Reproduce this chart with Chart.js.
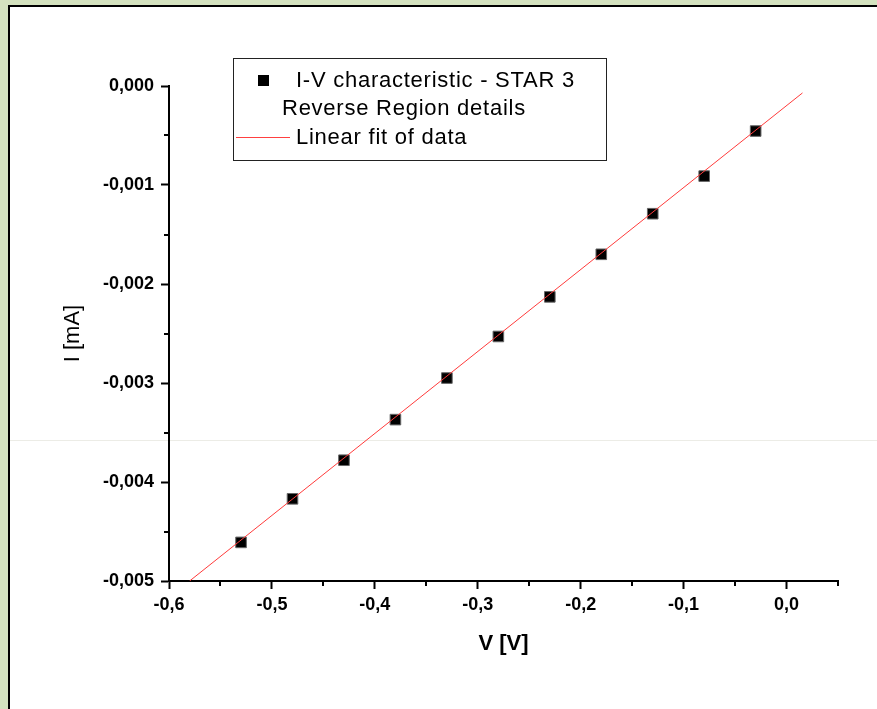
<!DOCTYPE html>
<html>
  <head>
    <title>I-V characteristic - STAR 3</title>
    <script src="https://cdn.jsdelivr.net/npm/chart.js@4.4.1/dist/chart.umd.min.js"></script>
    <style>
      body { margin: 0; background: #d4e2bf; width: 877px; height: 709px; overflow: hidden; position: relative; }
      #panel { position: absolute; left: 8px; top: 5px; right: 0; bottom: 0; background: #fff; border-left: 2px solid #000; border-top: 2px solid #000; }
      #seam { position: absolute; left: 10px; right: 0; top: 440px; height: 1px; background: #ecece6; }
      #myChart { position: absolute; left: 0; top: 0; }
    </style>
  </head>
  <body>
    <div id="panel"></div>
    <div id="seam"></div>
    <canvas id="myChart" width="877" height="709"></canvas>
    <script>
      // measured points, V in volts, I in mA
      const voltage = [-0.53, -0.48, -0.43, -0.38, -0.33, -0.28, -0.23, -0.18, -0.13, -0.08, -0.03];
      const current = [-0.00461, -0.00417, -0.00378, -0.00337, -0.00295, -0.00253, -0.00213, -0.00170, -0.00129, -0.00091, -0.000455];

      // ends of the fitted line
      const fitV = [-0.58, 0.0155];
      const fitI = [-0.005, -0.00007];

      const xMajor = [-0.6, -0.5, -0.4, -0.3, -0.2, -0.1, 0.0];
      const xMinor = [-0.55, -0.45, -0.35, -0.25, -0.15, -0.05, 0.05];
      const yMajor = [0, -0.001, -0.002, -0.003, -0.004, -0.005];
      const yMinor = [-0.0005, -0.0015, -0.0025, -0.0035, -0.0045];

      const FONT = "'Liberation Sans', Arial, sans-serif";

      const minorTicks = {
        id: "minorTicks",
        afterDraw(chart) {
          const ctx = chart.ctx;
          const x = chart.scales.x;
          const y = chart.scales.y;
          ctx.save();
          ctx.strokeStyle = "#000";
          ctx.lineWidth = 2;
          ctx.beginPath();
          xMinor.forEach((v) => {
            const px = Math.round(x.getPixelForValue(v));
            ctx.moveTo(px, x.top);
            ctx.lineTo(px, x.top + 5);
          });
          yMinor.forEach((v) => {
            const py = Math.round(y.getPixelForValue(v));
            ctx.moveTo(y.right, py);
            ctx.lineTo(y.right - 5, py);
          });
          ctx.stroke();
          ctx.restore();
        },
      };

      const boxLegend = {
        id: "boxLegend",
        afterDraw(chart) {
          const ctx = chart.ctx;
          ctx.save();
          ctx.fillStyle = "#fff";
          ctx.fillRect(233, 58, 373, 102);
          ctx.strokeStyle = "#222";
          ctx.lineWidth = 1;
          ctx.strokeRect(233.5, 58.5, 373, 102);
          ctx.fillStyle = "#000";
          ctx.fillRect(258, 75, 11, 11);
          ctx.strokeStyle = "#ff4040";
          ctx.beginPath();
          ctx.moveTo(236, 137.5);
          ctx.lineTo(290, 137.5);
          ctx.stroke();
          ctx.fillStyle = "#000";
          ctx.font = "22px " + FONT;
          ctx.letterSpacing = "0.75px";
          ctx.textBaseline = "middle";
          ctx.fillText("I-V characteristic - STAR 3", 296, 81);
          ctx.fillText("Reverse Region details", 282, 109);
          ctx.fillText("Linear fit of data", 296, 138);
          ctx.letterSpacing = "0px";
          ctx.restore();
        },
      };

      const tickFmt = (digits) => (value) => {
        const r = Math.abs(value) < 1e-9 ? 0 : value;
        return r.toFixed(digits).replace(".", ",");
      };

      new Chart(document.getElementById("myChart"), {
        type: "scatter",
        data: {
          datasets: [
            {
              label: "Linear fit of data",
              data: fitV.map((v, i) => ({ x: v, y: fitI[i] })),
              showLine: true,
              borderColor: "#ff3b3b",
              borderWidth: 1,
              pointRadius: 0,
            },
            {
              label: "I-V characteristic - STAR 3",
              data: voltage.map((v, i) => ({ x: v, y: current[i] })),
              pointStyle: "rect",
              pointRadius: 7.5,
              backgroundColor: "#000",
              borderColor: "#666",
              borderWidth: 1,
            },
          ],
        },
        options: {
          responsive: false,
          animation: false,
          devicePixelRatio: 1,
          layout: { padding: { left: 0, top: 86, right: 39, bottom: 0 } },
          plugins: { legend: { display: false }, tooltip: { enabled: false } },
          scales: {
            x: {
              type: "linear",
              min: -0.6,
              max: 0.05,
              afterFit(scale) { scale.height = 128; },
              afterBuildTicks(scale) { scale.ticks = xMajor.map((v) => ({ value: v })); },
              border: { color: "#000", width: 2 },
              grid: { drawOnChartArea: false, tickLength: 8, tickColor: "#000", tickWidth: 2 },
              ticks: {
                color: "#000",
                padding: 5,
                font: { family: FONT, size: 18, weight: "bold" },
                callback: tickFmt(1),
              },
              title: {
                display: true,
                text: "V [V]",
                color: "#000",
                font: { family: FONT, size: 22, weight: "bold" },
                padding: { top: 0, bottom: 52 },
              },
            },
            y: {
              type: "linear",
              min: -0.005,
              max: 0,
              afterFit(scale) { scale.width = 169; },
              afterBuildTicks(scale) { scale.ticks = yMajor.map((v) => ({ value: v })); },
              border: { color: "#000", width: 2 },
              grid: { drawOnChartArea: false, tickLength: 8, tickColor: "#000", tickWidth: 2 },
              ticks: {
                color: "#000",
                padding: 7,
                font: { family: FONT, size: 18, weight: "bold" },
                callback: tickFmt(3),
              },
              title: {
                display: true,
                text: "I [mA]",
                color: "#000",
                font: { family: FONT, size: 22 },
                padding: { top: 60, bottom: 0 },
              },
            },
          },
        },
        plugins: [minorTicks, boxLegend],
      });
    </script>
  </body>
</html>
